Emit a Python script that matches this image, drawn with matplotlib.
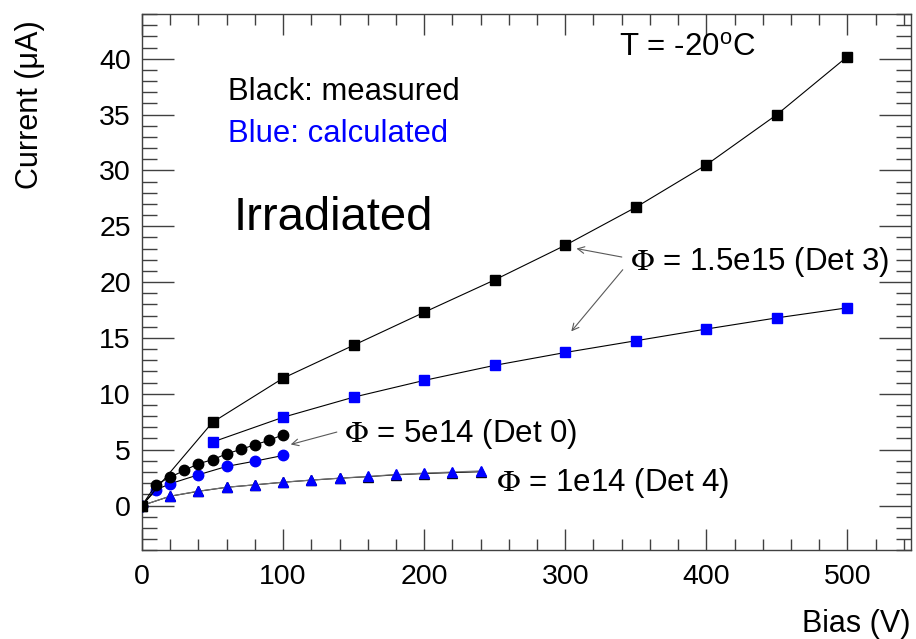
import matplotlib.pyplot as plt
from matplotlib.ticker import MultipleLocator

plt.rcParams["font.family"] = ["Liberation Sans", "DejaVu Sans"]
plt.rcParams["mathtext.fontset"] = "stix"
plt.rcParams["mathtext.rm"] = "Liberation Sans"

# Det 3, phi = 1.5e15
det3_bias = [0, 50, 100, 150, 200, 250, 300, 350, 400, 450, 500]
det3_meas = [0, 7.45, 11.4, 14.35, 17.3, 20.2, 23.3, 26.7, 30.5, 35.0, 40.2]
det3_calc_bias = [50, 100, 150, 200, 250, 300, 350, 400, 450, 500]
det3_calc = [5.68, 7.9, 9.7, 11.2, 12.55, 13.7, 14.75, 15.8, 16.8, 17.7]

# Det 0, phi = 5e14
det0_bias = [0, 10, 20, 30, 40, 50, 60, 70, 80, 90, 100]
det0_meas = [0, 1.88, 2.54, 3.14, 3.74, 4.1, 4.63, 5.02, 5.44, 5.83, 6.34]
det0_calc_bias = [0, 10, 20, 40, 60, 80, 100]
det0_calc = [0, 1.41, 1.95, 2.75, 3.5, 3.97, 4.48]

# Det 4, phi = 1e14
det4_bias = [0, 20, 40, 60, 80, 100, 120, 140, 160, 180, 200, 220, 240]
det4_meas = [0, 0.83, 1.27, 1.63, 1.85, 2.08, 2.27, 2.44, 2.58, 2.75, 2.86, 2.95, 3.02]
det4_calc = [0, 0.84, 1.28, 1.64, 1.85, 2.09, 2.28, 2.45, 2.6, 2.78, 2.9, 3.0, 3.1]

fig = plt.figure(figsize=(9.16, 6.39), dpi=100)
ax = fig.add_axes([0.155, 0.139, 0.8395, 0.839])

lw = 0.8
ax.plot(det4_bias, det4_meas, "^", color="black", ls="-", lw=lw, ms=7.5, zorder=2)
ax.plot(det4_bias, det4_calc, color="0.45", lw=lw, zorder=3)
ax.plot(det4_bias[1:], det4_calc[1:], "^", ls="none", mfc="blue", mec="blue", ms=7.5, zorder=4)

ax.plot(det3_calc_bias, det3_calc, "s", color="black", ls="-", lw=lw, mfc="blue", mec="blue",
        ms=6.5, zorder=3)
ax.plot(det0_calc_bias, det0_calc, "o", color="black", ls="-", lw=lw, mfc="blue", mec="blue",
        ms=7.5, zorder=3)
ax.plot(det0_bias, det0_meas, "o", color="black", ls="-", lw=lw, ms=7.5, zorder=3)
ax.plot(det3_bias, det3_meas, "s", color="black", ls="-", lw=lw, ms=6.5, zorder=5)

ax.set_xlim(0, 545)
ax.set_ylim(-4, 44)
ax.xaxis.set_major_locator(MultipleLocator(100))
ax.xaxis.set_minor_locator(MultipleLocator(20))
ax.yaxis.set_major_locator(MultipleLocator(5))
ax.yaxis.set_minor_locator(MultipleLocator(1))
ax.tick_params(which="both", direction="in", top=True, right=True, color="0.25", width=1)
ax.tick_params(axis="x", which="major", length=15, labelsize=20.5, pad=10)
ax.tick_params(axis="x", which="minor", length=8)
ax.tick_params(axis="y", which="major", length=23, labelsize=20.5, pad=8)
ax.tick_params(axis="y", which="minor", length=11)
for s in ax.spines.values():
    s.set_linewidth(1)
    s.set_color("0.25")

ax.set_xlabel("Bias (V)", fontsize=22, ha="right")
ax.xaxis.set_label_coords(0.999, -0.11)
ax.set_ylabel("Current (\u03bcA)", fontsize=22, ha="right")
ax.yaxis.set_label_coords(-0.126, 0.989)

ax.text(346, 21.8, r"$\Phi$ = 1.5e15 (Det 3)", fontsize=22.5, va="center", ha="left")
ax.text(143, 6.4, r"$\Phi$ = 5e14 (Det 0)", fontsize=22.5, va="center", ha="left")
ax.text(251, 2.05, r"$\Phi$ = 1e14 (Det 4)", fontsize=22.5, va="center", ha="left")
ax.text(338, 41.0, r"T = -20$^{\mathrm{o}}$C", fontsize=22.5, va="center", ha="left",
        math_fontfamily="custom")
ax.text(61, 37.0, "Black: measured", fontsize=22.3, va="center", ha="left")
ax.text(61, 33.3, "Blue: calculated", fontsize=22.3, va="center", ha="left", color="blue")
ax.text(65, 25.7, "Irradiated", fontsize=34, va="center", ha="left")

arrow = dict(arrowstyle="->", color="0.35", lw=0.8, mutation_scale=12)
ax.annotate("", xy=(306, 23.05), xytext=(342, 22.2), arrowprops=arrow)
ax.annotate("", xy=(303, 15.4), xytext=(342, 21.3), arrowprops=arrow)
ax.annotate("", xy=(103.5, 5.4), xytext=(140, 6.64), arrowprops=arrow)

fig.savefig("out.png", dpi=100)
